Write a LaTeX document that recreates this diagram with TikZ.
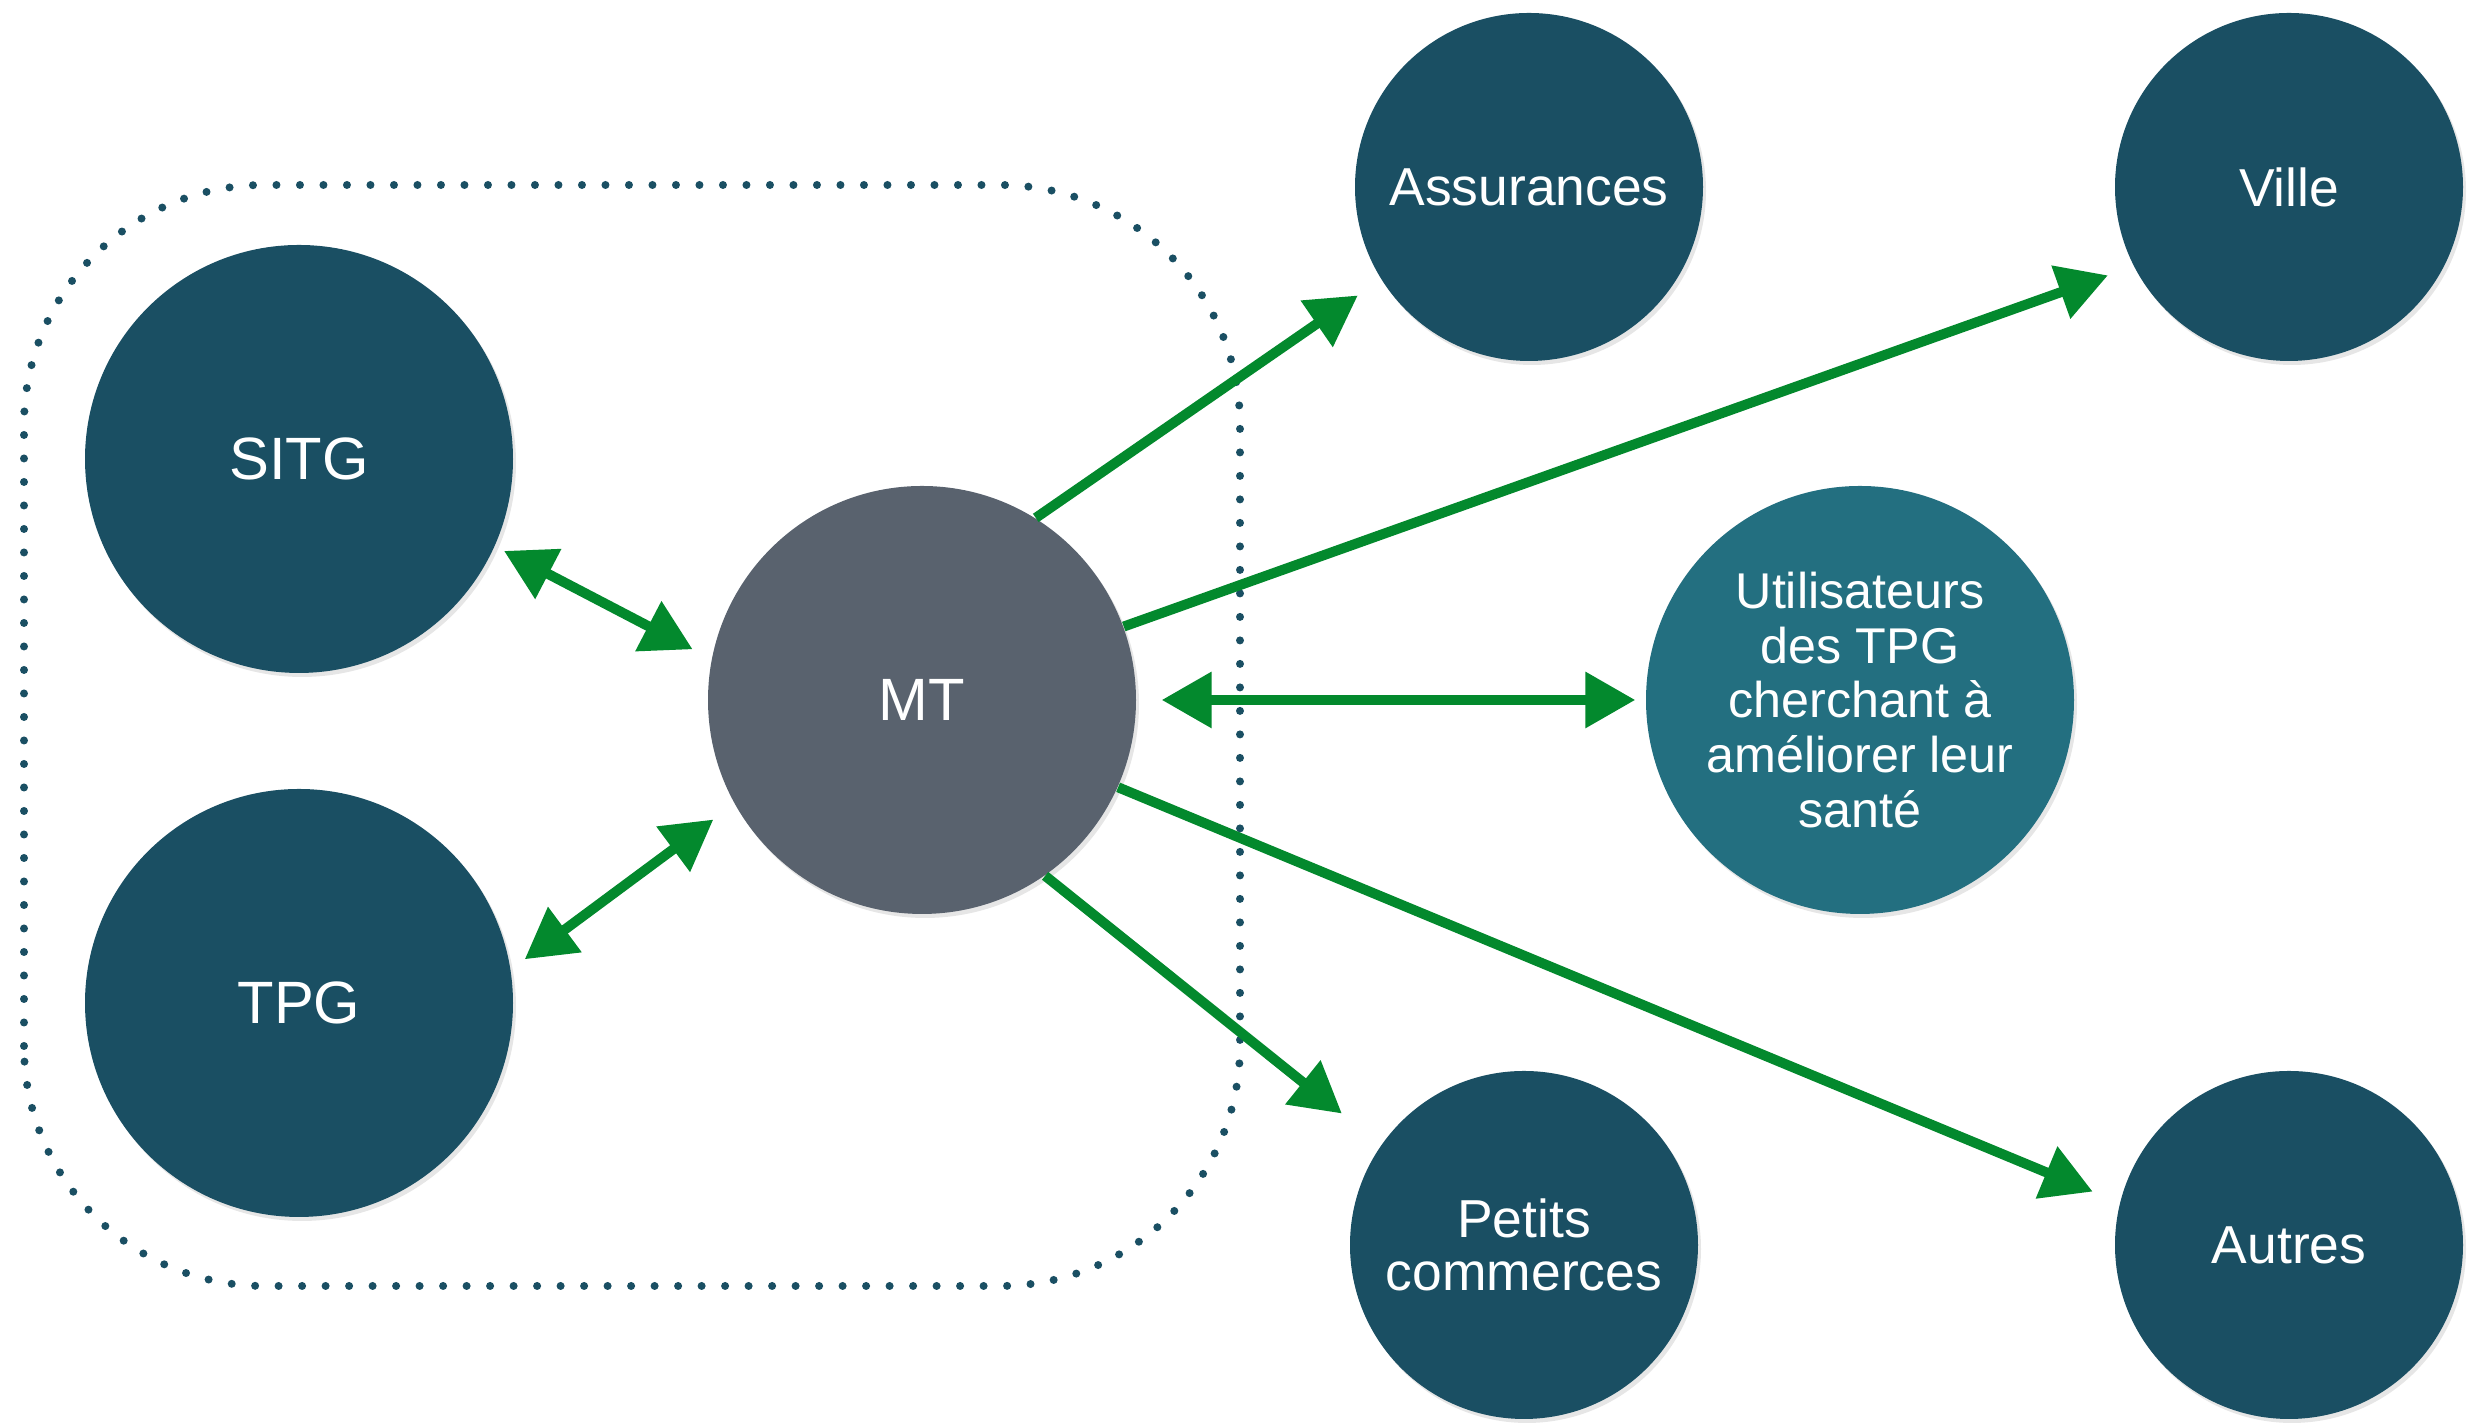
\documentclass[tikz,border=0pt]{standalone}
\usepackage{fontspec}
\setmainfont{Liberation Sans}
\usepackage{xcolor}
\usepackage{tikz}
\usetikzlibrary{arrows.meta, positioning, shadows}
\definecolor{petrol}{HTML}{1A4F63}
\definecolor{slate}{HTML}{59626E}
\definecolor{teal}{HTML}{236F80}
\definecolor{leaf}{HTML}{03892D}

\begin{document}
\begin{tikzpicture}[on grid,
        actor/.style={circle, fill=petrol, text=white, inner sep=0pt, align=center,
            drop shadow={shadow xshift=0.03cm, shadow yshift=-0.04cm, opacity=0.2}},
        big/.style={actor, minimum size=4.28cm, font=\fontsize{17}{20}\selectfont},
        small/.style={actor, minimum size=3.48cm, font=\fontsize{15.2}{15}\selectfont},
        link/.style={draw=leaf, line width=0.1cm, -{Triangle[length=0.5cm, width=0.54cm]}},
        both/.style={link, {Triangle[length=0.5cm, width=0.54cm]}-{Triangle[length=0.5cm, width=0.54cm]}},
        group/.style={draw=petrol, line width=0.08cm, line cap=round,
            dash pattern=on 0pt off 0.235cm, rounded corners=2.4cm}]
        \useasboundingbox (0,0) rectangle (24.84,14.24);

        \draw[group] (0.24,1.38) rectangle (12.40,12.39);

        \node[big, fill=slate]      (mt)     at (9.22,7.24)                       {MT};
        \node[big]                  (sitg)   [above left=2.41cm and 6.23cm of mt]  {SITG};
        \node[big]                  (tpg)    [below left=3.03cm and 6.23cm of mt]  {TPG};
        \node[small]                (assur)  [above right=5.13cm and 6.07cm of mt] {Assurances};
        \node[small]                (ville)  [right=7.6cm of assur]                {Ville};
        \node[big, fill=teal, font=\fontsize{14.3}{15.6}\selectfont]
                                    (users)  [right=9.38cm of mt]
                                    {Utilisateurs\\des TPG\\cherchant à\\améliorer leur\\santé};
        \node[small]                (shops)  [below left=10.58cm and 0.05cm of assur]
                                    {\fontsize{15.2}{14.6}\selectfont Petits\\commerces};
        \node[small]                (others) [below=10.58cm of ville]              {Autres};

        \path   (sitg.-24) edge [both, shorten <=0.10cm, shorten >=0.21cm] (mt.169)
        (tpg.9.5) edge [both, shorten <=0.17cm, shorten >=0.26cm] (mt.209.7)
        (mt.58.6) edge [link, shorten >=0.28cm] (assur.212.7)
        (mt.20.9) edge [link, shorten >=0.27cm] (ville.207.2)
        (mt.0) edge [both, shorten <=0.25cm, shorten >=0.10cm] (users.180)
        (mt.-55.3) edge [link, shorten >=0.50cm] (shops.145.2)
        (mt.-24.5) edge [link, shorten >=0.29cm] (others.166.6)
        ;
    \end{tikzpicture}
\end{document}
